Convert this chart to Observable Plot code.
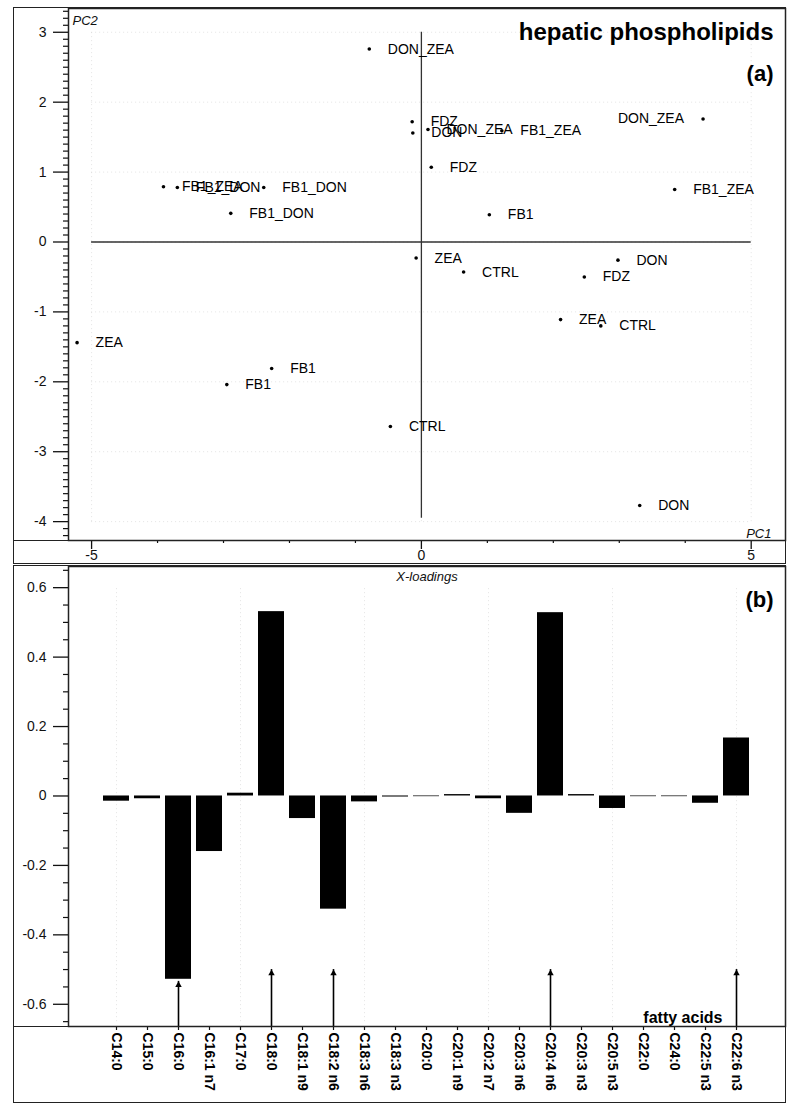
<!DOCTYPE html>
<html><head><meta charset="utf-8">
<script src="https://cdn.jsdelivr.net/npm/d3@7"></script>
<script src="https://cdn.jsdelivr.net/npm/@observablehq/plot@0.6"></script>
<style>
body{margin:0;background:#fff;font-family:"Liberation Sans",Arial,sans-serif;}
#wrap{position:relative;width:795px;height:1113px;}
.box{position:absolute;border:1.5px solid #222;box-sizing:border-box;pointer-events:none;}
.hl{position:absolute;height:0;border-top:1.5px solid #222;pointer-events:none;}
#a,#b{position:absolute;left:0;}
#a{top:0px} #b{top:565px}
</style></head><body><div id="wrap"><div id="a"></div><div id="b"></div>
<div class="box" style="left:13px;top:7px;width:773px;height:557px"></div>
<div class="hl" style="left:13px;top:539.5px;width:773px"></div>
<div class="box" style="left:13px;top:565px;width:773px;height:538px"></div>
<div class="hl" style="left:13px;top:1025.5px;width:773px"></div>
</div>
<script>
// ---- Panel (a): PCA scores ----
const groups = ["CTRL","CTRL","CTRL","DON","DON","DON","DON_ZEA","DON_ZEA","DON_ZEA","FB1","FB1","FB1",
  "FB1_DON","FB1_DON","FB1_DON","FB1_ZEA","FB1_ZEA","FB1_ZEA","FDZ","FDZ","FDZ","ZEA","ZEA","ZEA"];
const pc1 = [0.64, 2.72, -0.47, -0.13, 2.98, 3.31, -0.79, 0.10, 4.27, 1.03, -2.27, -2.95,
  -3.70, -2.39, -2.89, 1.22, 3.84, -3.91, -0.14, 0.15, 2.47, -0.08, 2.11, -5.22];
const pc2 = [-0.43, -1.20, -2.64, 1.56, -0.26, -3.77, 2.76, 1.61, 1.76, 0.39, -1.81, -2.04,
  0.78, 0.78, 0.41, 1.59, 0.75, 0.79, 1.72, 1.07, -0.50, -0.23, -1.11, -1.44];
const pcXTicks = [-5, 0, 5];
const pcYTicks = [-4, -3, -2, -1, 0, 1, 2, 3];

// ---- Panel (b): X-loadings ----
const fattyAcids = ["C14:0","C15:0","C16:0","C16:1 n7","C17:0","C18:0","C18:1 n9","C18:2 n6","C18:3 n6","C18:3 n3",
  "C20:0","C20:1 n9","C20:2 n7","C20:3 n6","C20:4 n6","C20:3 n3","C20:5 n3","C22:0","C24:0","C22:5 n3","C22:6 n3"];
const loadings = [-0.015, -0.008, -0.528, -0.160, 0.008, 0.531, -0.065, -0.326, -0.017, -0.003,
  -0.002, 0.004, -0.008, -0.050, 0.528, 0.004, -0.036, -0.002, -0.002, -0.021, 0.167];
const arrowAcids = ["C16:0","C18:0","C18:2 n6","C20:4 n6","C22:6 n3"];
const arrowTips = [-0.534, -0.5, -0.5, -0.5, -0.5];
const loadYTicks = [-0.6, -0.4, -0.2, 0, 0.2, 0.4, 0.6];

const font = "'Liberation Sans', Arial, sans-serif";
const ink = "#111";

const scores = groups.map((g, i) => ({g, x: pc1[i], y: pc2[i]}));
const xDomA = [-5.35, 5.52], yDomA = [-4.27, 3.34];
const minorXA = d3.range(-5, 6).filter(v => !pcXTicks.includes(v));
const minorYA = d3.range(-42, 34).map(v => v / 10).filter(v => !pcYTicks.includes(Math.round(v * 10) / 10));
const rightEdge = d => d.x > 4;

const plotA = Plot.plot({
  width: 795, height: 565,
  marginLeft: 68, marginRight: 10, marginTop: 8, marginBottom: 25,
  style: {fontFamily: font, fontSize: "13.5px", color: ink, background: "transparent", overflow: "visible"},
  x: {domain: xDomA},
  y: {domain: yDomA},
  marks: [
    Plot.ruleY(pcYTicks, {x1: -5, x2: 5, stroke: "#ccc", strokeOpacity: 0.5, strokeDasharray: "1,3"}),
    Plot.ruleX(pcXTicks, {y1: -4, y2: 3, stroke: "#ccc", strokeOpacity: 0.5, strokeDasharray: "1,3"}),
    Plot.ruleY([0], {x1: -5, x2: 5, stroke: "#333", strokeWidth: 1.3}),
    Plot.ruleX([0], {y1: -3.95, y2: 3, stroke: "#333", strokeWidth: 1.3}),
    Plot.dot(scores, {x: "x", y: "y", r: 1.8, fill: "#000", stroke: null}),
    Plot.text(scores, {filter: d => !rightEdge(d), x: "x", y: "y", text: "g", fontSize: 14, fill: "#000",
      textAnchor: "start", dx: 18.5}),
    Plot.text(scores, {filter: rightEdge, x: "x", y: "y", text: "g", fontSize: 14, fill: "#000",
      textAnchor: "end", dx: -19}),
    Plot.frame({stroke: "#222", strokeWidth: 1.5}),
    Plot.axisY({ticks: pcYTicks, tickSize: 15, tickPadding: 7, tickFormat: d => String(d), label: null, strokeWidth: 1.3, fontSize: 14}),
    Plot.axisY({ticks: minorYA, tickSize: 5, tickFormat: () => "", label: null, strokeWidth: 1.2}),
    Plot.axisX({ticks: pcXTicks, tickSize: 9, tickPadding: 1, tickFormat: d => String(d), label: null, strokeWidth: 1.3, fontSize: 14}),
    Plot.axisX({ticks: minorXA, tickSize: 3, tickFormat: () => "", label: null, strokeWidth: 1.2}),
    Plot.text(["PC2"], {frameAnchor: "top-left", dx: 4, dy: 7, fontStyle: "italic", fontSize: 13}),
    Plot.text(["PC1"], {frameAnchor: "bottom-right", dx: -14, dy: -3, fontStyle: "italic", fontSize: 13}),
    Plot.text(["hepatic phospholipids"], {frameAnchor: "top-right", dx: -12, dy: 14, fontWeight: "bold", fontSize: 24, fill: "#000"}),
    Plot.text(["(a)"], {frameAnchor: "top-right", dx: -12, dy: 57, fontWeight: "bold", fontSize: 22, fill: "#000"})
  ]
});
document.getElementById("a").append(plotA);

// ---- Panel (b) ----
const loadData = fattyAcids.map((c, i) => ({c, v: loadings[i]}));
const arrows = arrowAcids.map((c, i) => ({c, tip: arrowTips[i]}));
const yDomB = [-0.664, 0.661];
const minorYB = d3.range(-13, 14).map(v => v * 0.05).filter(v => Math.abs(Math.round(v * 100)) % 20 !== 0);
const gridCats = fattyAcids.filter((c, i) => i % 4 === 0);

const plotB = Plot.plot({
  width: 795, height: 537,
  marginLeft: 68, marginRight: 10, marginTop: 1, marginBottom: 76,
  style: {fontFamily: font, fontSize: "13.5px", color: ink, background: "transparent", overflow: "visible"},
  x: {type: "band", domain: fattyAcids, range: [103, 750], paddingInner: 0.16, paddingOuter: 0},
  y: {domain: yDomB},
  marks: [
    Plot.ruleY(loadYTicks.filter(v => v !== 0), {x1: fattyAcids[0], x2: fattyAcids[fattyAcids.length - 1], stroke: "#ccc", strokeOpacity: 0.5, strokeDasharray: "1,3"}),
    Plot.ruleX(gridCats, {y1: -0.65, y2: 0.6, stroke: "#ccc", strokeOpacity: 0.5, strokeDasharray: "1,3"}),
    Plot.barY(loadData, {x: "c", y: "v", fill: "#000"}),
    Plot.ruleX(arrows, {x: "c", y1: yDomB[0], y2: "tip", stroke: "#000", strokeWidth: 1.6}),
    Plot.dot(arrows, {x: "c", y: "tip", symbol: "triangle", r: 2.4, fill: "#000", stroke: null, dy: 3.7}),
    Plot.frame({stroke: "#222", strokeWidth: 1.5}),
    Plot.axisY({ticks: loadYTicks, tickSize: 15, tickPadding: 7, tickFormat: d => Math.abs(d) < 1e-9 ? "0" : d.toFixed(1), label: null, strokeWidth: 1.3, fontSize: 14}),
    Plot.axisY({ticks: minorYB, tickSize: 5, tickFormat: () => "", label: null, strokeWidth: 1.2}),
    Plot.axisX({tickSize: 4, tickPadding: 2, tickRotate: 90, label: null, fontWeight: "bold", fontSize: 14, fill: "#000", strokeWidth: 1.2}),
    Plot.text(["X-loadings"], {frameAnchor: "top", dy: 5, fontStyle: "italic", fontSize: 13}),
    Plot.text(["(b)"], {frameAnchor: "top-right", dx: -12, dy: 25, fontWeight: "bold", fontSize: 22, fill: "#000"}),
    Plot.text(["fatty acids"], {frameAnchor: "bottom-right", dx: -63, dy: -4, fontWeight: "bold", fontSize: 16, fill: "#000"})
  ]
});
document.getElementById("b").append(plotB);
</script>
</body></html>
